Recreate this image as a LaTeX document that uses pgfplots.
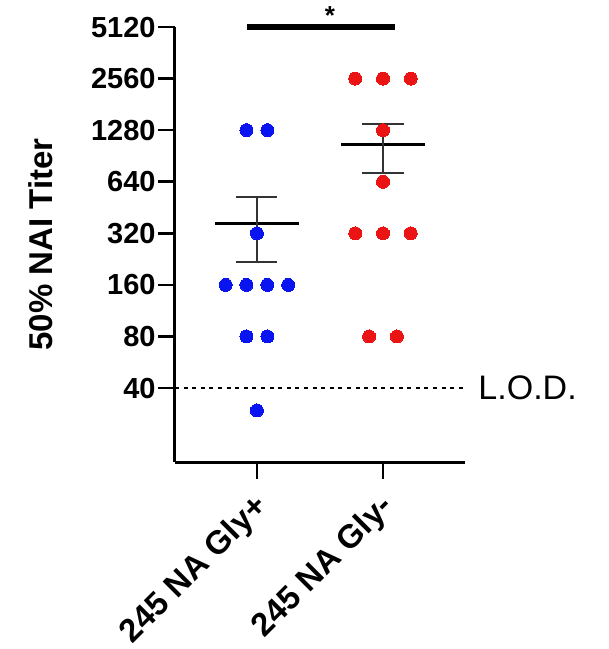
\documentclass[border=0pt]{standalone}
\usepackage{fontspec}
\setmainfont{Liberation Sans}
\usepackage{pgfplots}
\pgfplotsset{compat=1.18}
\definecolor{dotblue}{RGB}{10,20,240}
\definecolor{dotred}{RGB}{235,20,20}
\begin{document}
\begin{tikzpicture}
\begin{axis}[
  scale only axis, width=145pt, height=217.5pt,
  xmin=-0.65, xmax=1.65,
  ymode=log, log basis y=2, ymin=14.8, ymax=5120,
  axis x line*=bottom, axis y line*=left,
  axis line style={line width=1.5pt, black, -},
  tick align=outside, major tick length=8.5pt,
  major tick style={line width=1.3pt, black},
  xtick={0,1}, xticklabels={245 NA Gly+, 245 NA Gly-},
  ytick={40,80,160,320,640,1280,2560,5120},
  yticklabels={40,80,160,320,640,1280,2560,5120},
  /pgf/number format/assume math mode=true,
  yticklabel style={font=\fontsize{14.5}{16}\selectfont\bfseries, inner sep=1pt},
  xticklabel style={font=\fontsize{16.4}{19}\selectfont\bfseries, rotate=45, anchor=east, inner sep=0pt, text depth=0pt, yshift=-8.5pt, xshift=-6pt},
  ylabel={50\% NAI Titer},
  ylabel style={font=\fontsize{16.5}{19}\selectfont\bfseries, at={(rel axis cs:-0.462,0.5)}, anchor=center},
  clip=false,
]
\addplot[dotblue, only marks, mark=*, mark size=3.25pt, mark options={draw=dotblue, fill=dotblue, line width=0pt}] coordinates {
(-0.083,1280)(0.083,1280)(0,320)(-0.248,160)(-0.083,160)(0.083,160)(0.248,160)(-0.083,80)(0.083,80)(0,29.6)};
\addplot[dotred, only marks, mark=*, mark size=3.25pt, mark options={draw=dotred, fill=dotred, line width=0pt}] coordinates {
(0.78,2560)(1,2560)(1.22,2560)(1,1280)(1,640)(0.78,320)(1,320)(1.22,320)(0.89,80)(1.11,80)};
% means
\addplot[black, line width=1.7pt] coordinates {(-0.33,365)(0.33,365)};
\addplot[black, line width=1.7pt] coordinates {(0.67,1058)(1.33,1058)};
% error bars
\addplot[black!80, line width=1pt] coordinates {(0,217)(0,520)};
\addplot[black!80, line width=1pt] coordinates {(-0.163,520)(0.163,520)};
\addplot[black!80, line width=1pt] coordinates {(-0.163,217)(0.163,217)};
\addplot[black!80, line width=1pt] coordinates {(1,720)(1,1391)};
\addplot[black!80, line width=1pt] coordinates {(0.833,1391)(1.167,1391)};
\addplot[black!80, line width=1pt] coordinates {(0.833,720)(1.167,720)};
% LOD
\addplot[black, line width=1.2pt, dash pattern=on 2pt off 2.3pt] coordinates {(-0.65,40)(1.667,40)};
\node[anchor=west, font=\fontsize{17}{19}\selectfont, inner sep=0pt] at (axis cs:1.754,40) {L.O.D.};
% significance
\addplot[black, line width=3pt] coordinates {(-0.079,5120)(1.095,5120)};
\node[anchor=south, font=\fontsize{13}{13}\selectfont\bfseries, inner sep=1pt] at (axis cs:0.58,5120) {*};
\coordinate (bbsw) at (rel axis cs:-0.6034,-0.4299);
\coordinate (bbne) at (rel axis cs:1.4966,1.0621);
\end{axis}
\useasboundingbox (bbsw) rectangle (bbne);
\end{tikzpicture}
\end{document}
